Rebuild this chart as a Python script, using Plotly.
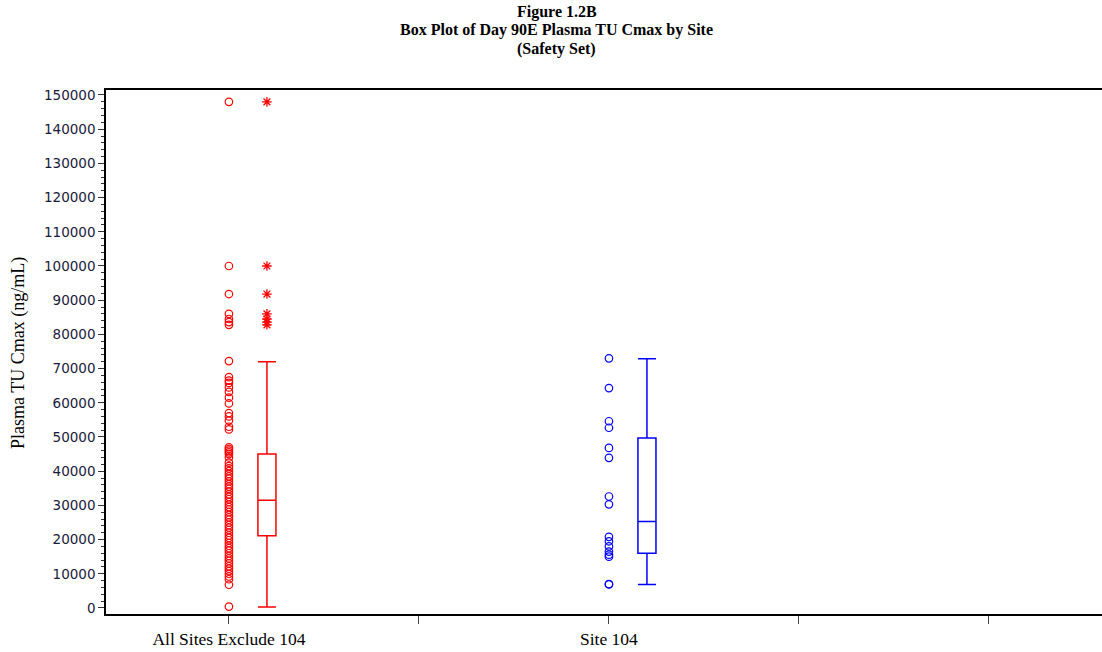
import plotly.graph_objects as go

# ---- data ----
categories = ["All Sites Exclude 104", "Site 104"]
cat_pos = [0, 2]

red_values = [148000, 100000, 91800, 86000, 84500, 83600, 82800,
              72200, 67500, 66500, 65800, 64500, 63200, 61500, 59800, 57000, 56000, 54800, 53000, 52200,
              47000, 46500, 46000, 45500, 45000, 44000, 42500, 41500, 40800, 40000, 39200, 38500,
              37800, 37000, 36200, 35500, 34800, 34000, 33200, 32500, 31800, 31000, 30200, 29500,
              28800, 28000, 27200, 26500, 25800, 25000, 24200, 23500, 22800, 22000, 21200, 20500,
              19800, 19000, 18200, 17500, 16800, 16000, 15200, 14500, 13800, 13000, 12200, 11500,
              10800, 10000, 9200, 8400, 6800, 400]
red_outliers = [148000, 100000, 91800, 86000, 84500, 83600, 82800]
red_stats = dict(q1=21100, median=31500, q3=45000, lowerfence=300, upperfence=72000)

blue_values = [73000, 64300, 54600, 52700, 46800, 43900, 32600, 30300,
               20800, 19500, 18000, 16500, 15600, 15000, 7000, 6900]
blue_outliers = []
blue_stats = dict(q1=16000, median=25300, q3=49700, lowerfence=6900, upperfence=72900)

colors = ["#ff0000", "#0000ff"]
y_ticks = list(range(0, 150001, 10000))
y_ticktext = [str(v) for v in y_ticks]

fig = go.Figure()

for pos, vals, outs, st, col in [(cat_pos[0], red_values, red_outliers, red_stats, colors[0]),
                                 (cat_pos[1], blue_values, blue_outliers, blue_stats, colors[1])]:
    fig.add_trace(go.Scatter(x=[pos] * len(vals), y=vals, mode="markers",
                             marker=dict(symbol="circle-open", size=7.5, color=col, line=dict(width=1.2, color=col)),
                             showlegend=False, hoverinfo="y"))
    fig.add_trace(go.Box(x=[pos + 0.2], q1=[st["q1"]], median=[st["median"]], q3=[st["q3"]],
                         lowerfence=[st["lowerfence"]], upperfence=[st["upperfence"]],
                         width=0.095, whiskerwidth=1, boxpoints=False,
                         line=dict(color=col, width=1.5), fillcolor="rgba(0,0,0,0)",
                         showlegend=False))
    if outs:
        fig.add_trace(go.Scatter(x=[pos + 0.2] * len(outs), y=outs, mode="markers",
                                 marker=dict(symbol="asterisk-open", size=8, color=col, line=dict(width=1.3, color=col)),
                                 showlegend=False, hoverinfo="y"))

title_lines = ["Figure 1.2B", "Box Plot of Day 90E Plasma TU Cmax by Site", "(Safety Set)"]
title_ys = [1.1489, 1.1145, 1.0782]
for t, yy in zip(title_lines, title_ys):
    fig.add_annotation(text="<b>" + t + "</b>", xref="paper", yref="paper", x=0.4528, y=yy,
                       xanchor="center", yanchor="middle", showarrow=False,
                       font=dict(family="Liberation Serif", size=16, color="black"))

fig.add_annotation(text="Plasma TU Cmax (ng/mL)", xref="paper", yref="paper", x=-0.0884, y=0.498,
                   xanchor="center", yanchor="middle", textangle=-90, showarrow=False,
                   font=dict(family="Liberation Serif", size=18, color="black"))

fig.update_layout(
    width=1102, height=652,
    margin=dict(l=106, r=0, t=90, b=38),
    paper_bgcolor="white", plot_bgcolor="white",
    showlegend=False,
    xaxis=dict(range=[-0.647, 4.595], tickmode="array", tickvals=[0, 1, 2, 3, 4],
               ticktext=[categories[0], "", categories[1], "", ""],
               ticks="outside", ticklen=8, tickwidth=1, tickcolor="#444",
               showline=True, linecolor="black", linewidth=1.5, mirror=True,
               showgrid=False, zeroline=False,
               tickfont=dict(family="Liberation Serif", size=17.5, color="black")),
    yaxis=dict(range=[-1760, 151460], tickmode="array", tickvals=y_ticks, ticktext=y_ticktext,
               ticks="outside", ticklen=6, tickwidth=1, tickcolor="#333",
               minor=dict(dtick=2000, ticks="outside", ticklen=3, tickcolor="#333"),
               showline=True, linecolor="black", linewidth=1.5, mirror=False,
               showgrid=False, zeroline=False,
               tickfont=dict(family="DejaVu Sans", size=13.5, color="#1a1a3a")),
)

fig.write_html("out.html")
